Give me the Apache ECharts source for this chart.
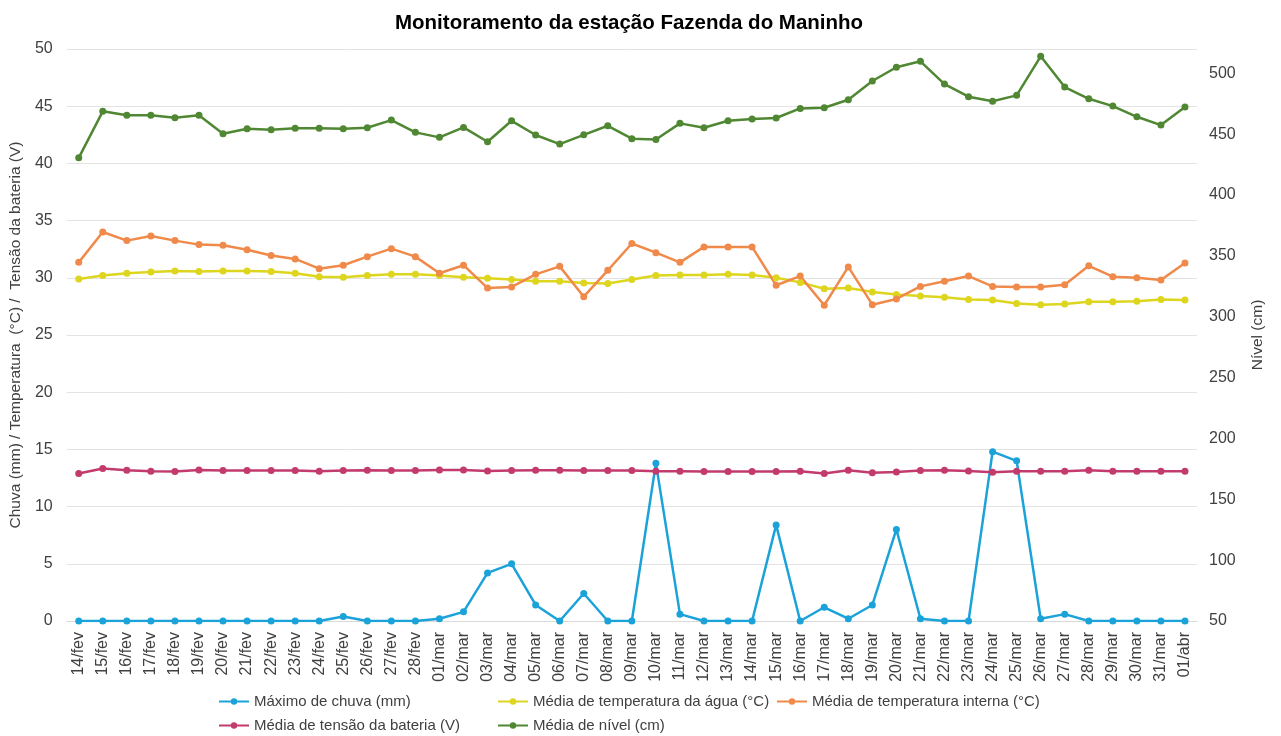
<!DOCTYPE html>
<html>
<head>
<meta charset="utf-8">
<title>Monitoramento da estação Fazenda do Maninho</title>
<script src="https://cdn.jsdelivr.net/npm/echarts@6/dist/echarts.min.js"></script>
<style>
  html, body { margin: 0; padding: 0; background: #fff; }
  #chart { width: 1281px; height: 736px; }
</style>
</head>
<body>
<div id="chart"></div>
<script>
// dias (eixo x)
var dias = ['14/fev', '15/fev', '16/fev', '17/fev', '18/fev', '19/fev', '20/fev', '21/fev', '22/fev', '23/fev',
  '24/fev', '25/fev', '26/fev', '27/fev', '28/fev', '01/mar', '02/mar', '03/mar', '04/mar', '05/mar',
  '06/mar', '07/mar', '08/mar', '09/mar', '10/mar', '11/mar', '12/mar', '13/mar', '14/mar', '15/mar',
  '16/mar', '17/mar', '18/mar', '19/mar', '20/mar', '21/mar', '22/mar', '23/mar', '24/mar', '25/mar',
  '26/mar', '27/mar', '28/mar', '29/mar', '30/mar', '31/mar', '01/abr'];

// eixo esquerdo
var chuva = [0, 0, 0, 0, 0, 0, 0, 0, 0, 0, 0, 0.4, 0, 0, 0, 0.2, 0.8, 4.2, 5.0, 1.4, 0, 2.4, 0, 0,
  13.8, 0.6, 0, 0, 0, 8.4, 0, 1.2, 0.2, 1.4, 8.0, 0.2, 0, 0, 14.8, 14.0, 0.2, 0.6, 0, 0, 0, 0, 0];
var tempAgua = [29.9, 30.2, 30.4, 30.5, 30.6, 30.55, 30.6, 30.6, 30.55, 30.4, 30.1, 30.05, 30.2, 30.3,
  30.3, 30.2, 30.05, 29.95, 29.85, 29.7, 29.7, 29.55, 29.5, 29.85, 30.2, 30.25, 30.25, 30.3, 30.25,
  30.0, 29.6, 29.05, 29.1, 28.75, 28.55, 28.4, 28.3, 28.1, 28.05, 27.75, 27.65, 27.7, 27.9, 27.9,
  27.95, 28.1, 28.05];
var tempInterna = [31.35, 34.0, 33.25, 33.65, 33.25, 32.9, 32.85, 32.45, 31.95, 31.65, 30.8, 31.1,
  31.85, 32.55, 31.85, 30.4, 31.1, 29.1, 29.2, 30.3, 31.0, 28.35, 30.65, 33.0, 32.2, 31.35, 32.7,
  32.7, 32.7, 29.35, 30.15, 27.6, 30.95, 27.65, 28.15, 29.25, 29.7, 30.15, 29.25, 29.2, 29.2, 29.4,
  31.05, 30.1, 30.0, 29.8, 31.3];
var tensao = [12.9, 13.33, 13.18, 13.1, 13.07, 13.2, 13.15, 13.15, 13.15, 13.15, 13.1, 13.15, 13.18,
  13.15, 13.15, 13.2, 13.2, 13.12, 13.15, 13.18, 13.18, 13.15, 13.15, 13.15, 13.1, 13.1, 13.07,
  13.07, 13.07, 13.07, 13.1, 12.9, 13.18, 12.95, 13.03, 13.15, 13.18, 13.12, 13.0, 13.1, 13.1,
  13.1, 13.18, 13.1, 13.1, 13.1, 13.1];

// eixo direito
var nivel = [430.6, 468.8, 465.5, 465.5, 463.5, 465.5, 450.4, 454.5, 453.7, 454.8, 454.8, 454.5,
  455.3, 461.6, 451.5, 447.4, 455.6, 443.8, 461.0, 449.3, 441.9, 449.5, 456.9, 446.3, 445.7, 458.9,
  455.3, 461.0, 462.4, 463.3, 471.2, 471.7, 478.3, 493.7, 505.0, 509.9, 491.2, 480.8, 477.0, 481.9,
  514.0, 488.7, 479.1, 473.1, 464.3, 457.5, 472.3];

var nomes = ['Máximo de chuva (mm)', 'Média de temperatura da água (°C)',
  'Média de temperatura interna (°C)', 'Média de tensão da bateria (V)', 'Média de nível (cm)'];
var cores = ['#1BA3D9', '#DED51F', '#F08A4B', '#C23B6C', '#4F8733'];

var fonte = 'Liberation Sans, Arial, sans-serif';
var corTexto = '#404040';

function serie(i, dados, eixo) {
  return {
    name: nomes[i],
    type: 'line',
    yAxisIndex: eixo,
    data: dados,
    symbol: 'circle',
    symbolSize: 7,
    showSymbol: true,
    itemStyle: { color: cores[i] },
    lineStyle: { color: cores[i], width: 2.5 },
    emphasis: { disabled: true },
    animation: false
  };
}

// legenda em grade (3 colunas, 2 linhas) como no Excel
var posLegenda = [[218, 694], [497, 694], [776, 694], [218, 718], [497, 718]];
var legendas = posLegenda.map(function (p, i) {
  return {
    data: [nomes[i]],
    left: p[0],
    top: p[1],
    itemWidth: 30,
    itemHeight: 8,
    padding: 0,
    textStyle: { fontFamily: fonte, fontSize: 15, color: corTexto }
  };
});

var option = {
  backgroundColor: '#fff',
  title: {
    text: 'Monitoramento da estação Fazenda do Maninho',
    left: 395,
    top: 13,
    padding: 0,
    textStyle: { fontFamily: fonte, fontSize: 20.5, fontWeight: 'bold', color: '#000' }
  },
  legend: legendas,
  grid: { left: 62, right: 84, top: 49, bottom: 115 },
  xAxis: {
    type: 'category',
    data: dias,
    boundaryGap: true,
    axisLine: { lineStyle: { color: '#d9d9d9' } },
    axisTick: { show: false },
    axisLabel: { rotate: 90, margin: 11, fontFamily: fonte, fontSize: 16, color: corTexto, interval: 0 }
  },
  yAxis: [
    {
      type: 'value',
      min: 0,
      max: 50,
      interval: 5,
      name: 'Chuva (mm) / Temperatura  (°C) /  Tensão da bateria (V)',
      nameLocation: 'middle',
      nameRotate: 90,
      nameGap: 36,
      nameTextStyle: { fontFamily: fonte, fontSize: 15.5, color: corTexto },
      axisLine: { show: false },
      axisTick: { show: false },
      axisLabel: { margin: 14, fontFamily: fonte, fontSize: 16, color: corTexto },
      splitLine: { lineStyle: { color: '#e3e3e3' } }
    },
    {
      type: 'value',
      position: 'right',
      min: 50,
      max: 520,
      interval: 50,
      name: 'Nível (cm)',
      nameLocation: 'middle',
      nameRotate: 90,
      nameGap: 53,
      nameTextStyle: { fontFamily: fonte, fontSize: 15.5, color: corTexto },
      axisLine: { show: false },
      axisTick: { show: false },
      axisLabel: { margin: 12, showMaxLabel: false, fontFamily: fonte, fontSize: 16, color: corTexto },
      splitLine: { show: false }
    }
  ],
  series: [
    serie(0, chuva, 0),
    serie(1, tempAgua, 0),
    serie(2, tempInterna, 0),
    serie(3, tensao, 0),
    serie(4, nivel, 1)
  ]
};

var myChart = echarts.init(document.getElementById('chart'));
myChart.setOption(option);
window.addEventListener('resize', function () {
  myChart.resize();
});
</script>
</body>
</html>
